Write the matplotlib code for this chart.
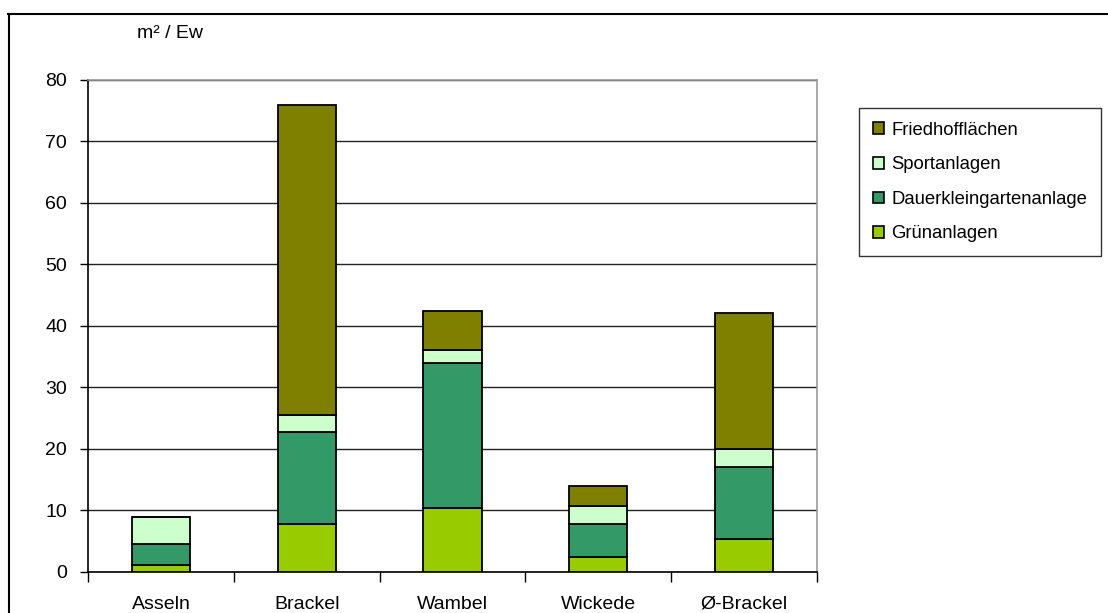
import matplotlib.pyplot as plt
from matplotlib.patches import Patch
from matplotlib.lines import Line2D
import numpy as np

plt.rcParams['font.family'] = ['Liberation Sans', 'DejaVu Sans']

districts = ['Asseln', 'Brackel', 'Wambel', 'Wickede', 'Ø-Brackel']
gruenanlagen = [1.1, 7.8, 10.4, 2.5, 5.4]
dauerkleingarten = [3.5, 15.0, 23.6, 5.3, 11.6]
sportanlagen = [4.4, 2.7, 2.1, 2.9, 3.0]
friedhof = [0.0, 50.3, 6.3, 3.2, 22.0]

series = [
    ('Grünanlagen', gruenanlagen, '#99cc00'),
    ('Dauerkleingartenanlage', dauerkleingarten, '#339966'),
    ('Sportanlagen', sportanlagen, '#ccffcc'),
    ('Friedhofflächen', friedhof, '#808000'),
]

W, H = 1108, 613
fig = plt.figure(figsize=(W / 100, H / 100), dpi=100)
ax = fig.add_axes([88 / W, 1 - 572 / H, (817 - 88) / W, (572 - 79.5) / H])

x = np.arange(len(districts))
bottom = np.zeros(len(districts))
for name, vals, col in series:
    vals = np.array(vals)
    ax.bar(x, vals, width=0.4, bottom=bottom, color=col, edgecolor='black',
           linewidth=1.3, zorder=3, label=name)
    bottom += vals

ax.set_xlim(-0.5, len(districts) - 0.5)
ax.set_ylim(0, 80)
ax.set_yticks(range(0, 81, 10))
ax.yaxis.grid(True, color='#222222', linewidth=1.0, zorder=0)
ax.set_axisbelow(True)

ax.set_xticks(x)
ax.set_xticklabels(districts)
ax.set_xticks(np.arange(-0.5, len(districts)), minor=True)
ax.tick_params(axis='x', which='major', length=0, pad=17, labelsize=14)
ax.tick_params(axis='x', which='minor', length=7, width=1, direction='out')
ax.tick_params(axis='y', length=6, width=1, pad=9, labelsize=14)

ax.spines['left'].set_color('black')
ax.spines['bottom'].set_color('black')
ax.spines['top'].set_color('#999999')
ax.spines['right'].set_color('#999999')
for s in ax.spines.values():
    s.set_linewidth(1.2)

fig.text(137 / W, 1 - 33 / H, 'm² / Ew', fontsize=14, va='center', ha='left')

# outer chart frame (top and left)
fig.add_artist(Line2D([8 / W, 1.0], [1 - 13.5 / H, 1 - 13.5 / H],
                      transform=fig.transFigure, color='black', linewidth=1.5))
fig.add_artist(Line2D([8.5 / W, 8.5 / W], [0, 1 - 13.5 / H],
                      transform=fig.transFigure, color='black', linewidth=1.5))

handles = [Patch(facecolor=c, edgecolor='black', linewidth=1.2, label=n)
           for n, _, c in reversed(series)]
leg = fig.legend(handles=handles, loc='upper left',
                 bbox_to_anchor=(859 / W, 1 - 108 / H), frameon=True,
                 fancybox=False, edgecolor='black', fontsize=13.3,
                 handlelength=0.6, handleheight=0.6, handletextpad=0.4,
                 labelspacing=0.95, borderpad=0.75, borderaxespad=0)
leg.get_frame().set_linewidth(1.0)

fig.savefig('out.png', dpi=100)
